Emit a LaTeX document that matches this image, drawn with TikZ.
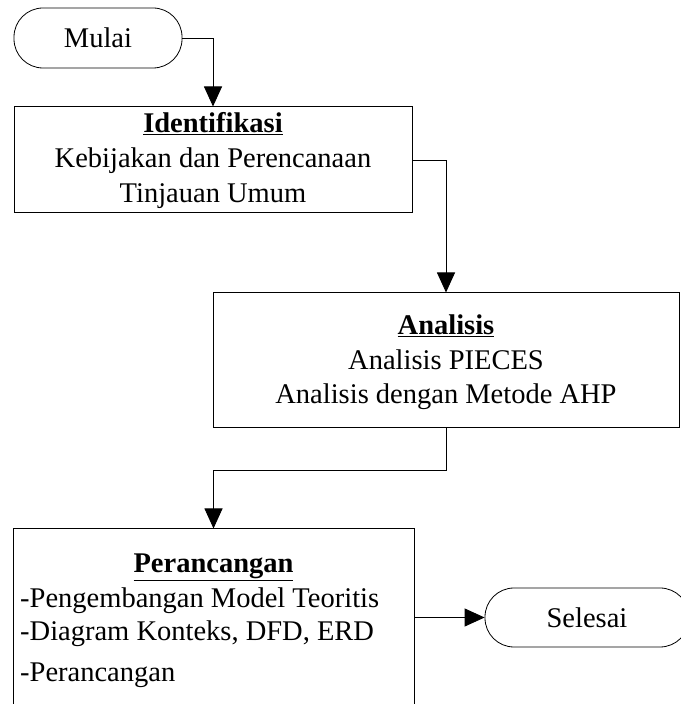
\documentclass[tikz,border=0pt]{standalone}
\usepackage{fontspec}
\setmainfont{Liberation Serif}
\usetikzlibrary{arrows.meta}
\begin{document}
\begin{tikzpicture}[x=1pt,y=1pt,
  box/.style={draw,line width=1pt,rectangle,inner sep=0pt},
  term/.style={draw,line width=0.8pt,rectangle,rounded corners=29pt,inner sep=0pt,
    font=\fontsize{28.5}{34}\selectfont},
  txt/.style={inner sep=0pt,font=\fontsize{28.5}{34}\selectfont,anchor=base},
  ltxt/.style={txt,anchor=base west},
  flow/.style={line width=0.9pt,-{Triangle[length=20pt,width=18pt]}}]
\useasboundingbox (0,0) rectangle (680,704);
% terminals
\node[term,minimum width=168pt,minimum height=60pt] (mulai) at (98,666) {Mulai};
\node[term,minimum width=204pt,minimum height=59pt] (selesai) at (587,86.5) {Selesai};
% Identifikasi
\node[box,minimum width=398pt,minimum height=106pt] (ident) at (213,544) {};
\node[txt] (it1) at (213,571) {\underline{\textbf{Identifikasi}}};
\node[txt] (it2) at (213,536) {Kebijakan dan Perencanaan};
\node[txt] (it3) at (213,501) {Tinjauan Umum};
% Analisis
\node[box,minimum width=466pt,minimum height=135pt] (anal) at (446,343.5) {};
\node[txt] (at1) at (446,369) {\underline{\textbf{Analisis}}};
\node[txt] (at2) at (446,334) {Analisis PIECES};
\node[txt] (at3) at (446,300) {Analisis dengan Metode AHP};
% Perancangan
\node[box,minimum width=401pt,minimum height=200pt] (peran) at (213.5,75) {};
\node[txt] (pt1) at (213.5,131) {\underline{\textbf{Perancangan}}};
\node[ltxt] (pl1) at (20,96) {-Pengembangan Model Teoritis};
\node[ltxt] (pl2) at (20,63) {-Diagram Konteks, DFD, ERD};
\node[ltxt] (pl3) at (20,22) {-Perancangan};
% connectors
\coordinate (bend) at (446,234);
\draw[flow] (mulai.east) -| (ident.north);
\draw[flow] (ident.east) -| (anal.north);
\draw[flow] (anal.south) -- (bend) -| (peran.north);
\draw[flow] (peran.east |- selesai.west) -- (selesai.west);
\end{tikzpicture}
\end{document}
